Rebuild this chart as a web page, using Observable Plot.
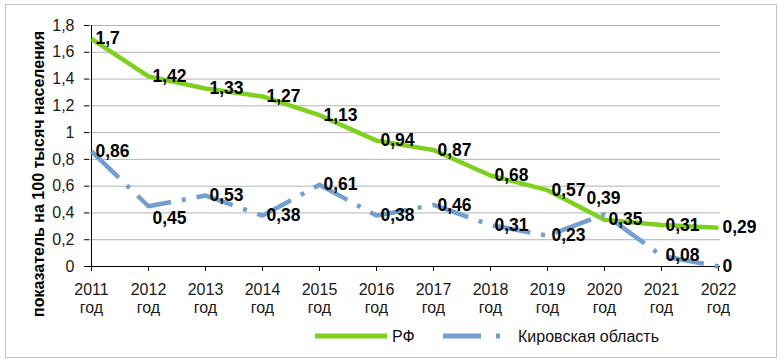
<!DOCTYPE html>
<html>
<head>
<meta charset="utf-8">
<script src="https://cdn.jsdelivr.net/npm/d3@7"></script>
<script src="https://cdn.jsdelivr.net/npm/@observablehq/plot@0.6"></script>
<style>
  html, body { margin: 0; padding: 0; background: #fff; }
  #wrap { position: relative; width: 784px; height: 363px; overflow: hidden; font-family: "Liberation Sans", Arial, sans-serif; }
  #frame { position: absolute; left: 5px; top: 4px; width: 772px; height: 354px; border: 1px solid #c3c3c3; box-sizing: border-box; pointer-events: none; }
  #legend { position: absolute; left: 0; top: 0; }
</style>
</head>
<body>
<div id="wrap">
  <div id="chart"></div>
  <div id="frame"></div>
  <svg id="legend" width="784" height="363"></svg>
</div>
<script>
const years = ["2011","2012","2013","2014","2015","2016","2017","2018","2019","2020","2021","2022"];
const rfValues = [1.7, 1.42, 1.33, 1.27, 1.13, 0.94, 0.87, 0.68, 0.57, 0.35, 0.31, 0.29];
const kirovValues = [0.86, 0.45, 0.53, 0.38, 0.61, 0.38, 0.46, 0.31, 0.23, 0.39, 0.08, 0];
const seriesNames = ["РФ", "Кировская область"];
const yTicks = [0, 0.2, 0.4, 0.6, 0.8, 1, 1.2, 1.4, 1.6, 1.8];
const yTitle = "показатель на 100 тысяч населения";
const xSuffix = "год";

const green = "#7fd01e";
const blue = "#729fcf";

const fmt = v => String(Number(v.toFixed(2))).replace(".", ",");

const rf = years.map((y, i) => ({year: y, value: rfValues[i], idx: i}));
const kirov = years.map((y, i) => ({year: y, value: kirovValues[i], idx: i}));

const labelStyle = {fontSize: 17.5, fontWeight: "bold", fill: "#000", textAnchor: "start", dx: 4};

const plot = Plot.plot({
  width: 784,
  height: 363,
  marginLeft: 89,
  marginRight: 64,
  marginTop: 25,
  marginBottom: 97,
  style: {fontFamily: "Liberation Sans, Arial, sans-serif", background: "transparent", color: "#000", overflow: "visible"},
  x: {type: "point", domain: years, padding: 0},
  y: {domain: [0, 1.8]},
  marks: [
    Plot.gridY(yTicks.filter(d => d > 0), {stroke: "#b3b3b3", strokeOpacity: 1, strokeWidth: 1}),
    Plot.axisY(yTicks, {tickSize: 5, tickPadding: 10, fontSize: 16, tickFormat: fmt, label: null, stroke: "#000", fill: "#1a1a1a"}),
    Plot.axisX({tickSize: 5, tickPadding: 10, fontSize: 16, tickFormat: d => `${d}\n${xSuffix}`, lineHeight: 1.15, label: null, stroke: "#000", fill: "#1a1a1a", letterSpacing: "0.5px"}),
    Plot.ruleY([0], {stroke: "#000", strokeWidth: 1}),
    Plot.ruleX([years[0]], {stroke: "#000", strokeWidth: 1}),
    Plot.line(rf, {x: "year", y: "value", stroke: green, strokeWidth: 4.5, strokeLinejoin: "round", strokeLinecap: "butt"}),
    Plot.line(kirov, {x: "year", y: "value", stroke: blue, strokeWidth: 4.5, strokeDasharray: "38,11,4,11", strokeLinecap: "butt", strokeLinejoin: "round"}),
    Plot.text(rf, {x: "year", y: "value", text: d => fmt(d.value), ...labelStyle}),
    Plot.text(kirov.filter(d => d.idx !== 1 && d.idx !== 9), {x: "year", y: "value", text: d => fmt(d.value), ...labelStyle}),
    Plot.text(kirov.filter(d => d.idx === 1), {x: "year", y: "value", text: d => fmt(d.value), ...labelStyle, dy: 12}),
    Plot.text(kirov.filter(d => d.idx === 9), {x: "year", y: "value", text: d => fmt(d.value), ...labelStyle, dx: -18, dy: -16}),
    Plot.text([yTitle], {frameAnchor: "left", dx: -51, dy: 28, rotate: -90, fontSize: 16, fontWeight: "bold", fill: "#000", textAnchor: "middle"})
  ]
});
document.getElementById("chart").appendChild(plot);

// Legend
const lg = d3.select("#legend");
lg.append("line").attr("x1", 315).attr("x2", 387).attr("y1", 336).attr("y2", 336)
  .attr("stroke", green).attr("stroke-width", 5);
lg.append("text").attr("x", 392).attr("y", 341.5).attr("font-size", 16)
  .attr("font-family", "Liberation Sans, Arial, sans-serif").attr("fill", "#111").text(seriesNames[0]);
lg.append("line").attr("x1", 443).attr("x2", 512).attr("y1", 336).attr("y2", 336)
  .attr("stroke", blue).attr("stroke-width", 5).attr("stroke-dasharray", "38,15,4,15");
lg.append("text").attr("x", 518).attr("y", 341.5).attr("font-size", 16)
  .attr("font-family", "Liberation Sans, Arial, sans-serif").attr("fill", "#111").text(seriesNames[1]);
</script>
</body>
</html>
